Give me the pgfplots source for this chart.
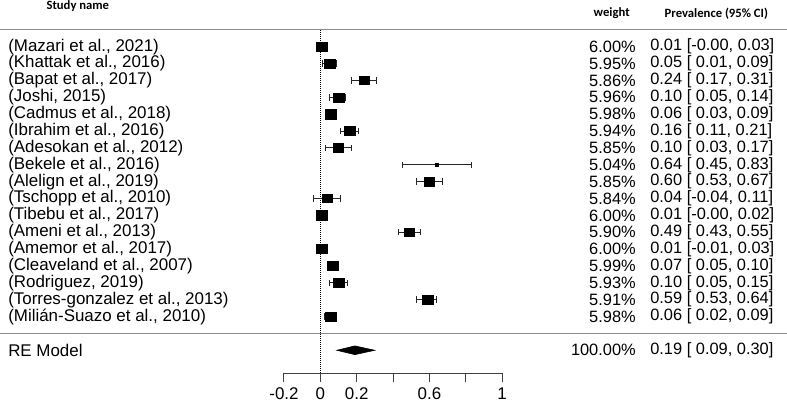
\documentclass[border=0pt]{standalone}
\usepackage{pgfplots}
\pgfplotsset{compat=1.18}
\usepackage{pgfplotstable}
\usepackage{fontspec}
\setmainfont{Liberation Sans}
\newfontfamily\hdr{Carlito}
\pgfplotstableread{
row est lo hi w
1 0.01 -0.00 0.03 6.00
2 0.05 0.01 0.09 5.95
3 0.24 0.17 0.31 5.86
4 0.10 0.05 0.14 5.96
5 0.06 0.03 0.09 5.98
6 0.16 0.11 0.21 5.94
7 0.10 0.03 0.17 5.85
8 0.64 0.45 0.83 5.04
9 0.60 0.53 0.67 5.85
10 0.04 -0.04 0.11 5.84
11 0.01 -0.00 0.02 6.00
12 0.49 0.43 0.55 5.90
13 0.01 -0.01 0.03 6.00
14 0.07 0.05 0.10 5.99
15 0.10 0.05 0.15 5.93
16 0.59 0.53 0.64 5.91
17 0.06 0.02 0.09 5.98
}\studies
\newcommand\tf{\fontsize{12.3}{14}\selectfont}
\newcommand\lf{\fontsize{12.7}{14}\selectfont}
\begin{document}
\begin{tikzpicture}
\begin{axis}[
  scale only axis, width=163.6pt, height=279.75pt,
  xmin=-0.2, xmax=1, ymin=-20.35, ymax=1.77,
  axis x line=bottom, axis y line=none,
  x axis line style={-, black!75, line width=0.7pt},
  xtick={-0.2,0,0.2,0.4,0.6,0.8,1},
  xticklabels={-0.2,0,0.2,,0.6,,1},
  tick align=outside, major tick length=6.75pt,
  xtick style={black!75, line width=0.7pt},
  xticklabel style={font=\lf, yshift=-1pt},
  clip=false,
]
% separators
\addplot[black!45, line width=0.9pt] coordinates {(-1.762,0) (2.567,0)};
\addplot[black!45, line width=0.9pt] coordinates {(-1.762,-18) (2.567,-18)};
% reference line
\addplot[black, line width=0.5pt, densely dotted] coordinates {(0,0) (0,-20.35)};
% studies
\addplot[black, only marks, mark=square*,
  scatter, scatter/use mapped color={draw=black, fill=black},
  visualization depends on={3.5*(0.3+0.7*(\thisrow{w}-5.04)/0.96) \as \msize},
  scatter/@pre marker code/.append style={/tikz/mark size=\msize pt, /tikz/xscale=1.2},
  error bars/.cd, x dir=both, x explicit,
  error bar style={black!85, line width=0.6pt},
  error mark options={black!85, mark size=2.4pt, line width=0.6pt, rotate=90}]
  table[x=est, y expr=-\thisrow{row},
        x error plus expr=\thisrow{hi}-\thisrow{est},
        x error minus expr=\thisrow{est}-\thisrow{lo}] {\studies};
% RE model diamond
\addplot[black, fill=black] coordinates {(0.09,-19) (0.19,-18.74) (0.30,-19) (0.19,-19.26)} -- cycle;
% headers
\node[anchor=west, font=\hdr\bfseries\fontsize{9.5}{11}\selectfont] at (axis cs:-1.532,1.414) {Study name};
\node[anchor=west, font=\hdr\bfseries\fontsize{9.5}{11}\selectfont] at (axis cs:1.478,0.98) {weight};
\node[anchor=west, font=\hdr\bfseries\fontsize{9.5}{11}\selectfont] at (axis cs:1.8686,0.98) {Prevalence (95\% CI)};
% study labels
\begin{scope}[every node/.style={font=\lf, inner sep=0pt}]
\node[anchor=west] at (axis cs:-1.718,-1) {(Mazari et al., 2021)};
\node[anchor=west] at (axis cs:-1.718,-2) {(Khattak et al., 2016)};
\node[anchor=west] at (axis cs:-1.718,-3) {(Bapat et al., 2017)};
\node[anchor=west] at (axis cs:-1.718,-4) {(Joshi, 2015)};
\node[anchor=west] at (axis cs:-1.718,-5) {(Cadmus et al., 2018)};
\node[anchor=west] at (axis cs:-1.718,-6) {(Ibrahim et al., 2016)};
\node[anchor=west] at (axis cs:-1.718,-7) {(Adesokan et al., 2012)};
\node[anchor=west] at (axis cs:-1.718,-8) {(Bekele et al., 2016)};
\node[anchor=west] at (axis cs:-1.718,-9) {(Alelign et al., 2019)};
\node[anchor=west] at (axis cs:-1.718,-10) {(Tschopp et al., 2010)};
\node[anchor=west] at (axis cs:-1.718,-11) {(Tibebu et al., 2017)};
\node[anchor=west] at (axis cs:-1.718,-12) {(Ameni et al., 2013)};
\node[anchor=west] at (axis cs:-1.718,-13) {(Amemor et al., 2017)};
\node[anchor=west] at (axis cs:-1.718,-14) {(Cleaveland et al., 2007)};
\node[anchor=west] at (axis cs:-1.718,-15) {(Rodriguez, 2019)};
\node[anchor=west] at (axis cs:-1.718,-16) {(Torres-gonzalez et al., 2013)};
\node[anchor=west] at (axis cs:-1.718,-17) {(Milián-Suazo et al., 2010)};
\node[anchor=west] at (axis cs:-1.718,-19) {RE Model};
\end{scope}
\begin{scope}[every node/.style={font=\tf, inner sep=0pt}]
% weights
\node[anchor=east] at (axis cs:1.7365,-1) {6.00\%};
\node[anchor=east] at (axis cs:1.7365,-2) {5.95\%};
\node[anchor=east] at (axis cs:1.7365,-3) {5.86\%};
\node[anchor=east] at (axis cs:1.7365,-4) {5.96\%};
\node[anchor=east] at (axis cs:1.7365,-5) {5.98\%};
\node[anchor=east] at (axis cs:1.7365,-6) {5.94\%};
\node[anchor=east] at (axis cs:1.7365,-7) {5.85\%};
\node[anchor=east] at (axis cs:1.7365,-8) {5.04\%};
\node[anchor=east] at (axis cs:1.7365,-9) {5.85\%};
\node[anchor=east] at (axis cs:1.7365,-10) {5.84\%};
\node[anchor=east] at (axis cs:1.7365,-11) {6.00\%};
\node[anchor=east] at (axis cs:1.7365,-12) {5.90\%};
\node[anchor=east] at (axis cs:1.7365,-13) {6.00\%};
\node[anchor=east] at (axis cs:1.7365,-14) {5.99\%};
\node[anchor=east] at (axis cs:1.7365,-15) {5.93\%};
\node[anchor=east] at (axis cs:1.7365,-16) {5.91\%};
\node[anchor=east] at (axis cs:1.7365,-17) {5.98\%};
\node[anchor=east] at (axis cs:1.7365,-19) {100.00\%};
% CIs
\node[anchor=west] at (axis cs:1.8136,-1) {0.01 [-0.00, 0.03]};
\node[anchor=west] at (axis cs:1.8136,-2) {0.05 [ 0.01, 0.09]};
\node[anchor=west] at (axis cs:1.8136,-3) {0.24 [ 0.17, 0.31]};
\node[anchor=west] at (axis cs:1.8136,-4) {0.10 [ 0.05, 0.14]};
\node[anchor=west] at (axis cs:1.8136,-5) {0.06 [ 0.03, 0.09]};
\node[anchor=west] at (axis cs:1.8136,-6) {0.16 [ 0.11, 0.21]};
\node[anchor=west] at (axis cs:1.8136,-7) {0.10 [ 0.03, 0.17]};
\node[anchor=west] at (axis cs:1.8136,-8) {0.64 [ 0.45, 0.83]};
\node[anchor=west] at (axis cs:1.8136,-9) {0.60 [ 0.53, 0.67]};
\node[anchor=west] at (axis cs:1.8136,-10) {0.04 [-0.04, 0.11]};
\node[anchor=west] at (axis cs:1.8136,-11) {0.01 [-0.00, 0.02]};
\node[anchor=west] at (axis cs:1.8136,-12) {0.49 [ 0.43, 0.55]};
\node[anchor=west] at (axis cs:1.8136,-13) {0.01 [-0.01, 0.03]};
\node[anchor=west] at (axis cs:1.8136,-14) {0.07 [ 0.05, 0.10]};
\node[anchor=west] at (axis cs:1.8136,-15) {0.10 [ 0.05, 0.15]};
\node[anchor=west] at (axis cs:1.8136,-16) {0.59 [ 0.53, 0.64]};
\node[anchor=west] at (axis cs:1.8136,-17) {0.06 [ 0.02, 0.09]};
\node[anchor=west] at (axis cs:1.8136,-19) {0.19 [ 0.09, 0.30]};
\end{scope}
\coordinate (bbA) at (axis cs:-1.762,1.77);
\coordinate (bbB) at (axis cs:2.567,-22.19);
\end{axis}
\pgfresetboundingbox
\path[use as bounding box] (bbA) rectangle (bbB);
\end{tikzpicture}
\end{document}
